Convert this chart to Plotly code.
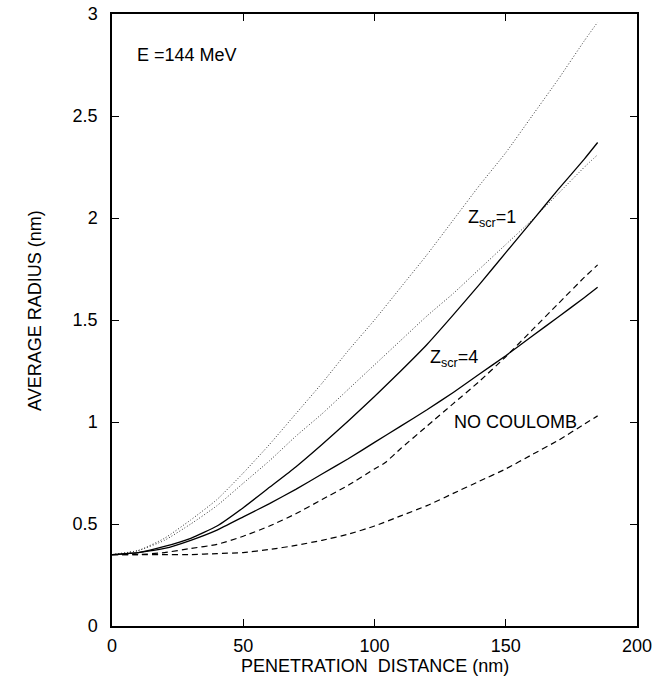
import plotly.graph_objects as go

# ---- data ----
x_common = [0, 10, 20, 30, 40, 50, 60, 70, 80, 90, 100, 110, 120, 130, 140, 150, 160, 170, 180, 185]

dot_upper = [0.35, 0.37, 0.43, 0.52, 0.62, 0.75, 0.89, 1.04, 1.19, 1.35, 1.50, 1.66, 1.82, 1.99, 2.16, 2.32, 2.50, 2.68, 2.87, 2.96]
dot_lower = [0.35, 0.37, 0.42, 0.50, 0.59, 0.70, 0.81, 0.93, 1.04, 1.16, 1.28, 1.40, 1.52, 1.63, 1.75, 1.87, 1.99, 2.12, 2.25, 2.31]
solid_z1 = [0.35, 0.36, 0.39, 0.43, 0.49, 0.58, 0.68, 0.78, 0.89, 1.005, 1.125, 1.25, 1.38, 1.525, 1.675, 1.83, 1.985, 2.14, 2.29, 2.37]
solid_z4 = [0.35, 0.36, 0.38, 0.42, 0.47, 0.535, 0.60, 0.67, 0.745, 0.82, 0.90, 0.98, 1.06, 1.145, 1.235, 1.325, 1.42, 1.515, 1.61, 1.66]

x_dash_upper = [0, 10, 20, 30, 40, 50, 60, 70, 80, 90, 100, 104, 110, 120, 130, 140, 150, 160, 170, 180, 185]
dash_upper = [0.35, 0.35, 0.36, 0.38, 0.40, 0.44, 0.49, 0.55, 0.62, 0.69, 0.77, 0.80, 0.87, 0.98, 1.09, 1.20, 1.32, 1.45, 1.58, 1.71, 1.77]

no_coulomb = [0.35, 0.35, 0.35, 0.35, 0.355, 0.36, 0.375, 0.395, 0.42, 0.45, 0.49, 0.54, 0.59, 0.65, 0.71, 0.77, 0.84, 0.91, 0.99, 1.03]

x_ticks = [0, 50, 100, 150, 200]
y_ticks = [0, 0.5, 1, 1.5, 2, 2.5, 3]

FONT = "Liberation Sans, Arial, Helvetica, sans-serif"

fig = go.Figure()

def add(x, y, dash, width=1.2, color="black"):
    fig.add_trace(go.Scatter(x=x, y=y, mode="lines",
                             line=dict(color=color, width=width, dash=dash, shape="spline", smoothing=0.5),
                             showlegend=False, hoverinfo="skip", cliponaxis=False))

add(x_common, dot_upper, "1px,2px", 1.0, "#333333")
add(x_common, dot_lower, "1px,2px", 1.0, "#333333")
add(x_common, solid_z1, "solid", 1.3)
add(x_common, solid_z4, "solid", 1.3)
add(x_dash_upper, dash_upper, "6px,4px", 1.2)
add(x_common, no_coulomb, "6px,4px", 1.2)

axis_common = dict(showline=True, linecolor="black", linewidth=1.5, mirror="ticks",
                   ticks="inside", ticklen=7, tickwidth=1.2, tickcolor="black",
                   showgrid=False, zeroline=False, ticklabeloverflow="allow",
                   automargin=False,
                   tickfont=dict(family=FONT, size=18, color="black"))

fig.update_xaxes(range=[0, 200], tickvals=x_ticks, ticklabelstandoff=3, **axis_common)
fig.update_yaxes(range=[0, 3], tickvals=y_ticks, ticklabelstandoff=9, **axis_common)

ann_font = dict(family=FONT, size=18, color="black")
annotations = [
    dict(x=8.8, y=2.80, text="E =144 MeV", xanchor="left", yanchor="middle", showarrow=False, font=ann_font),
    dict(x=135, y=2.0, text="Z<sub>scr</sub>=1", xanchor="left", yanchor="middle", showarrow=False, font=ann_font),
    dict(x=120.4, y=1.31, text="Z<sub>scr</sub>=4", xanchor="left", yanchor="middle", showarrow=False, font=ann_font),
    dict(x=129.5, y=1.0, text="NO COULOMB", xanchor="left", yanchor="middle", showarrow=False, font=ann_font),
    dict(xref="paper", yref="paper", x=0.5, y=-0.066, text="PENETRATION  DISTANCE (nm)",
         xanchor="center", yanchor="middle", showarrow=False, font=ann_font),
    dict(xref="paper", yref="paper", x=-0.147, y=0.516, text="AVERAGE RADIUS (nm)", textangle=-90,
         xanchor="center", yanchor="middle", showarrow=False, font=ann_font),
]

fig.update_layout(width=652, height=677,
                  margin=dict(l=112, r=15, t=14, b=51, autoexpand=False),
                  paper_bgcolor="white", plot_bgcolor="white",
                  annotations=annotations, font=dict(family=FONT))

fig.write_html("out.html")
